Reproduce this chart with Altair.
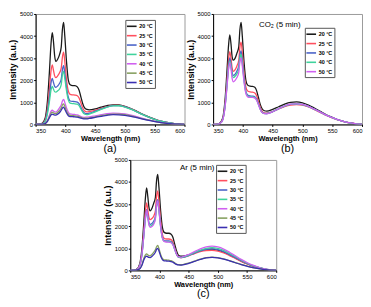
import altair as alt
import pandas as pd

# wavelength grid (nm) shared by all spectra
WL = [350, 356, 360, 364, 367, 370, 373, 376, 378, 380, 382, 384, 387, 390, 393, 395, 397, 399,
      402, 405, 408, 412, 416, 420, 423, 426, 429, 432, 436, 440, 450, 460, 470, 480, 490, 500,
      510, 520, 530, 540, 550, 560, 570, 580, 590, 600]

# (a) air
A20 = [0, 10, 40, 150, 400, 1100, 2300, 3700, 4150, 3750, 3100, 2850, 2950, 3150, 3500, 4300, 4620, 4000,
       2800, 2000, 1800, 1760, 1760, 1700, 1550, 1250, 950, 760, 680, 660, 700, 780, 850, 890, 880, 820,
       720, 590, 460, 340, 240, 150, 90, 45, 15, 5]
A25 = [0, 8, 30, 100, 280, 750, 1550, 2450, 2700, 2450, 2200, 2120, 2200, 2330, 2550, 3050, 3270, 2850,
       2000, 1500, 1360, 1340, 1330, 1300, 1200, 980, 760, 620, 570, 580, 640, 730, 810, 860, 860, 800,
       700, 580, 450, 335, 235, 150, 90, 45, 15, 5]
A30 = [0, 6, 25, 80, 220, 600, 1200, 1900, 2080, 1900, 1720, 1680, 1740, 1850, 2050, 2480, 2660, 2300,
       1650, 1220, 1060, 1040, 1035, 1010, 940, 780, 620, 520, 490, 510, 600, 700, 790, 850, 850, 790,
       690, 570, 445, 330, 230, 145, 88, 44, 15, 5]
A35 = [0, 5, 20, 70, 190, 500, 1000, 1580, 1725, 1600, 1480, 1465, 1520, 1600, 1800, 2250, 2400, 2080,
       1500, 1100, 960, 940, 935, 915, 850, 700, 560, 470, 440, 470, 570, 680, 780, 840, 845, 785,
       690, 570, 445, 330, 230, 145, 88, 44, 15, 5]
A40 = [0, 3, 10, 30, 80, 200, 400, 600, 650, 600, 565, 560, 630, 745, 880, 1060, 1135, 1000,
       730, 550, 475, 460, 450, 430, 400, 360, 330, 320, 330, 340, 390, 440, 490, 510, 505, 475,
       420, 350, 275, 205, 145, 92, 55, 28, 10, 3]
A45 = [0, 3, 8, 25, 65, 170, 340, 510, 560, 520, 495, 490, 540, 620, 740, 880, 930, 820,
       600, 460, 405, 395, 390, 375, 350, 320, 290, 280, 280, 295, 345, 400, 445, 470, 465, 440,
       390, 325, 255, 190, 135, 86, 52, 26, 10, 3]
A50 = [0, 2, 7, 20, 55, 140, 290, 430, 470, 440, 425, 425, 465, 530, 640, 740, 780, 690,
       520, 395, 358, 350, 345, 330, 310, 285, 265, 255, 255, 270, 320, 370, 415, 440, 435, 410,
       365, 305, 240, 180, 128, 82, 50, 25, 10, 3]

# (b) CO2 (5 min)
B20 = [0, 10, 40, 150, 400, 1100, 2300, 3600, 4050, 3650, 3050, 2910, 3000, 3230, 3500, 4300, 4620, 4000,
       2800, 2000, 1780, 1730, 1720, 1680, 1530, 1230, 920, 720, 620, 600, 680, 800, 920, 1000, 1020, 980,
       880, 740, 590, 440, 320, 210, 130, 70, 25, 8]
B25 = [0, 8, 32, 120, 330, 900, 1900, 2950, 3300, 3000, 2550, 2400, 2480, 2650, 2900, 3500, 3730, 3250,
       2300, 1700, 1510, 1470, 1460, 1420, 1300, 1050, 790, 610, 520, 510, 580, 700, 810, 880, 900, 870,
       790, 670, 540, 410, 300, 200, 125, 65, 22, 7]
B30 = [0, 7, 30, 110, 300, 820, 1720, 2700, 3010, 2750, 2350, 2220, 2280, 2420, 2650, 3130, 3330, 2900,
       2050, 1500, 1330, 1290, 1280, 1250, 1150, 940, 710, 560, 500, 495, 580, 710, 830, 910, 930, 900,
       815, 690, 555, 420, 305, 203, 126, 65, 22, 7]
B40 = [0, 7, 28, 105, 290, 790, 1650, 2580, 2870, 2620, 2240, 2120, 2180, 2300, 2520, 2980, 3180, 2780,
       1980, 1450, 1290, 1255, 1250, 1220, 1120, 920, 700, 550, 490, 485, 575, 705, 825, 905, 925, 895,
       810, 685, 550, 415, 302, 201, 125, 64, 22, 7]
B50 = [0, 7, 27, 100, 280, 770, 1600, 2500, 2800, 2520, 2070, 1930, 2000, 2120, 2350, 2820, 3010, 2640,
       1900, 1400, 1250, 1225, 1220, 1190, 1100, 900, 690, 545, 485, 480, 575, 710, 835, 915, 935, 905,
       820, 690, 555, 420, 305, 203, 126, 65, 22, 7]

# (c) Ar (5 min)
C20 = [0, 10, 40, 140, 380, 1000, 2100, 3300, 3730, 3350, 2850, 2690, 2800, 3030, 3300, 4050, 4340, 3800,
       2700, 1950, 1720, 1680, 1680, 1640, 1500, 1200, 900, 700, 640, 640, 700, 800, 890, 950, 960, 920,
       830, 700, 560, 420, 300, 200, 120, 60, 20, 5]
C25 = [0, 8, 32, 115, 310, 820, 1720, 2700, 3050, 2750, 2400, 2300, 2350, 2450, 2700, 3350, 3600, 3150,
       2250, 1640, 1450, 1420, 1420, 1390, 1280, 1030, 780, 620, 580, 590, 660, 760, 850, 900, 910, 875,
       790, 670, 540, 410, 295, 195, 120, 60, 20, 5]
C30 = [0, 7, 30, 105, 280, 740, 1550, 2430, 2750, 2480, 2170, 2080, 2120, 2220, 2450, 3000, 3200, 2800,
       2020, 1500, 1350, 1330, 1330, 1300, 1200, 980, 750, 610, 580, 590, 670, 780, 880, 950, 970, 935,
       845, 715, 575, 435, 310, 205, 125, 62, 20, 5]
C35 = [0, 7, 29, 100, 270, 710, 1490, 2340, 2650, 2400, 2090, 2000, 2040, 2130, 2370, 2900, 3100, 2720,
       1960, 1460, 1320, 1300, 1300, 1270, 1170, 960, 740, 610, 585, 600, 690, 810, 920, 1000, 1030, 1000,
       905, 770, 620, 470, 335, 220, 135, 67, 22, 5]
C40 = [0, 7, 29, 100, 275, 720, 1520, 2380, 2700, 2430, 2050, 1950, 1990, 2080, 2330, 2950, 3150, 2760,
       1980, 1470, 1310, 1285, 1280, 1250, 1160, 960, 750, 620, 600, 620, 720, 850, 970, 1060, 1095, 1060,
       965, 820, 660, 500, 355, 235, 142, 70, 23, 5]
C45 = [0, 3, 12, 40, 100, 260, 530, 700, 750, 700, 665, 660, 720, 820, 930, 1070, 1130, 1000,
       720, 540, 480, 470, 460, 440, 400, 340, 290, 260, 255, 265, 330, 420, 510, 580, 600, 580,
       520, 440, 355, 270, 195, 130, 78, 38, 13, 3]
C50 = [0, 3, 10, 35, 90, 230, 460, 610, 650, 610, 585, 580, 630, 710, 820, 950, 1000, 890,
       650, 490, 435, 425, 420, 400, 370, 315, 270, 245, 240, 250, 315, 405, 495, 565, 590, 570,
       510, 430, 345, 262, 190, 125, 75, 37, 12, 3]

T7 = ["20 °C", "25 °C", "30 °C", "35 °C", "40 °C", "45 °C", "50 °C"]
T5 = ["20 °C", "25 °C", "30 °C", "40 °C", "50 °C"]
COL7 = ["#1a1a1a", "#ff4f5e", "#4a63c8", "#3fd39c", "#d060f0", "#86a060", "#3a2fb0"]
COL5 = ["#1a1a1a", "#ff4f5e", "#4a63c8", "#3fd39c", "#d060f0"]

X_TICKS = [350, 400, 450, 500, 550, 600]
Y_TICKS = [0, 1000, 2000, 3000, 4000, 5000]

REG = "Liberation Sans, Arial, sans-serif"


def long_df(series, temps):
    rows = []
    for vals, t in zip(series, temps):
        for w, v in zip(WL, vals):
            rows.append({"wl": w, "I": v, "T": t})
    return pd.DataFrame(rows)


def panel(series, temps, colors, label, w, h, lx, ly, note=None):
    df = long_df(series, temps)
    x = alt.X("wl:Q", scale=alt.Scale(domain=[350, 600], nice=False, zero=False),
              axis=alt.Axis(values=X_TICKS, title="Wavelength (nm)", labelOverlap=False))
    y = alt.Y("I:Q", scale=alt.Scale(domain=[0, 5000], nice=False),
              axis=alt.Axis(values=Y_TICKS, title="Intensity (a.u.)", format="d", labelOverlap=False))
    lines = alt.Chart(df).mark_line(strokeWidth=1.3, interpolate="monotone", clip=True).encode(
        x=x, y=y,
        color=alt.Color("T:N", scale=alt.Scale(domain=temps, range=colors),
                        legend=alt.Legend(title=None, orient="none", legendX=lx, legendY=ly,
                                          symbolType="M-1.4,0L1.4,0", symbolSize=49,
                                          symbolStrokeWidth=1.6, labelFontSize=5.5,
                                          labelFont=REG, labelFontWeight="bold",
                                          labelColor="#000", labelOffset=3, rowPadding=1.5,
                                          padding=2, strokeColor="#555", fillColor="#fff")),
        order=alt.Order("wl:Q"),
    )
    layers = [lines]
    if note is not None:
        ndf = pd.DataFrame([{"wl": note[0], "I": note[1], "txt": note[2]}])
        layers.append(alt.Chart(ndf).mark_text(align="left", baseline="middle", fontSize=8,
                                               font=REG, color="#000").encode(
            x=x, y=y, text="txt:N"))
    return alt.layer(*layers).properties(
        width=w, height=h,
        title=alt.TitleParams(text=label, orient="bottom", fontSize=11, font=REG,
                              fontWeight="normal", offset=1, anchor="middle", color="#000"))


pa = panel([A20, A25, A30, A35, A40, A45, A50], T7, COL7, "(a)", 151, 112, 91, 6)
pb = panel([B20, B25, B30, B40, B50], T5, COL5, "(b)", 151, 112, 93, 14,
           note=(427, 4520, "CO₂ (5 min)"))
pc = panel([C20, C25, C30, C35, C40, C45, C50], T7, COL7, "(c)", 148, 112, 87, 5,
           note=(435, 4630, "Ar (5 min)"))

spacer = alt.Chart(pd.DataFrame({"z": [0]})).mark_point(opacity=0).properties(
    width=90, height=112, view=alt.ViewBackground(stroke="transparent"))

row1 = alt.hconcat(pa, pb, spacing=29, bounds="flush").resolve_scale(color="independent")
row2 = alt.hconcat(spacer, pc, spacing=6, bounds="flush").resolve_scale(color="independent")

chart = alt.vconcat(row1, row2, spacing=2).resolve_scale(
    color="independent").properties(padding=0, background="white").configure_view(
    stroke="#9a9a9a", strokeWidth=1).configure_axis(
    grid=False, domainColor="#000", domainWidth=1, tickColor="#000", tickSize=2,
    labelFont=REG, labelFontSize=6, labelColor="#000", labelPadding=1,
    titleFont=REG, titleFontSize=9, titleFontWeight="bold", titleColor="#000").configure_axisY(
    titlePadding=2).configure_axisX(titlePadding=1, titleFontSize=7.5)

chart.save("out.html", embed_options={"renderer": "svg", "actions": False})
